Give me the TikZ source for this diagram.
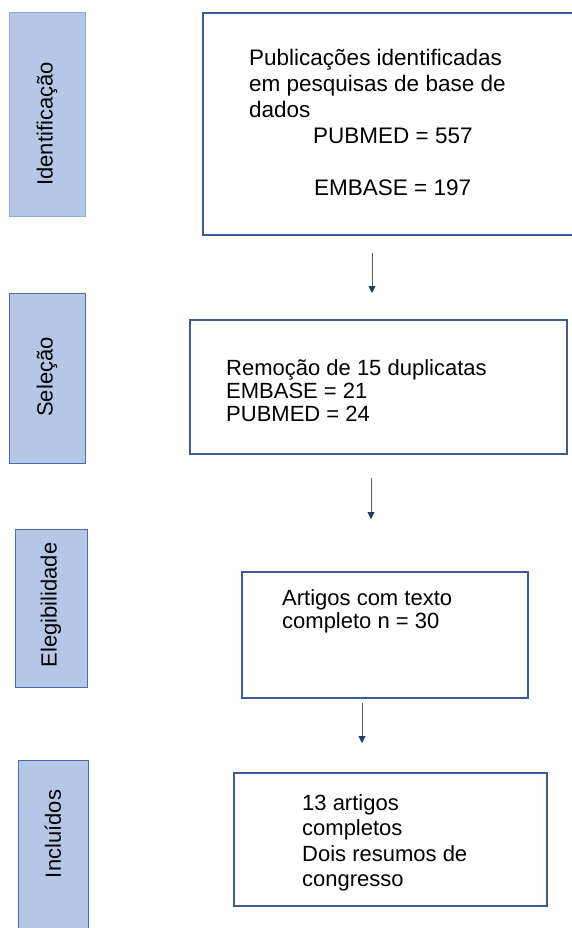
\documentclass[tikz,border=0pt]{standalone}
\usepackage{fontspec}
\setmainfont{Liberation Sans}
\usetikzlibrary{arrows.meta}

\definecolor{barfill}{HTML}{B4C7E7}
\definecolor{barlight}{HTML}{8FAADC}
\definecolor{bardark}{HTML}{4A6DAE}
\definecolor{boxline}{HTML}{3A5A98}
\definecolor{arrowline}{HTML}{55627A}
\definecolor{arrowtip}{HTML}{1F3864}

\tikzset{
  phase/.style={draw=bardark, fill=barfill, line width=1pt, inner sep=0pt},
  phaselabel/.style={rotate=90, font={\fontsize{22}{26}\selectfont}, inner sep=0pt},
  stagebox/.style={draw=boxline, line width=1.1pt, inner sep=0pt},
  stagetext/.style={anchor=north west, align=left, inner sep=0pt},
  flow/.style={draw=arrowline, line width=0.9pt,
    -{Triangle[length=7pt,width=7pt,fill=arrowtip,color=arrowtip]}}
}

\begin{document}
\begin{tikzpicture}[x=1pt,y=-1pt]
\useasboundingbox (0,0) rectangle (572,928);

% phase bars on the left
\node[phase, draw=barlight, minimum width=76pt, minimum height=203pt] (barA) at (47,114.5) {};
\node[phaselabel] (labA) at (47,124) {Identificação};
\node[phase, minimum width=76pt, minimum height=170pt] (barB) at (47,378) {};
\node[phaselabel] (labB) at (47,377) {Seleção};
\node[phase, minimum width=72pt, minimum height=158pt] (barC) at (51,608) {};
\node[phaselabel] (labC) at (51,605) {Elegibilidade};
\node[phase, minimum width=70pt, minimum height=185pt] (barD) at (53,852.5) {};
\node[phaselabel] (labD) at (53,834) {Incluídos};

% stage boxes
\node[stagebox, minimum width=387pt, minimum height=222pt] (boxA) at (396.5,124) {};
\node[stagetext, font={\fontsize{22.5}{26}\selectfont}] (txtA) at (249,49.4)
  {Publicações identificadas\\em pesquisas de base de\\dados\\
   \hspace*{64pt}PUBMED = 557\\[26pt]\hspace*{65pt}EMBASE = 197};

\node[stagebox, minimum width=377pt, minimum height=134pt] (boxB) at (378.5,387) {};
\node[stagetext, font={\fontsize{22}{23}\selectfont}] (txtB) at (226,359.7)
  {Remoção de 15 duplicatas\\EMBASE = 21\\PUBMED = 24};

\node[stagebox, minimum width=286pt, minimum height=126pt] (boxC) at (385,635) {};
\node[stagetext, font={\fontsize{22}{23.3}\selectfont}] (txtC) at (282,589.3)
  {Artigos com texto\\completo n = 30};

\node[stagebox, minimum width=313pt, minimum height=133pt] (boxD) at (390.5,839.5) {};
\node[stagetext, font={\fontsize{22}{25.6}\selectfont}] (txtD) at (302,794)
  {13 artigos\\completos\\Dois resumos de\\congresso};

% arrows between stages
\coordinate (f1s) at (372,253);
\coordinate (f1e) at (372,293);
\coordinate (f2s) at (371,478);
\coordinate (f2e) at (371,519);
\coordinate (f3s) at (362,703);
\coordinate (f3e) at (362,743);
\draw[flow] (f1s) -- (f1e);
\draw[flow] (f2s) -- (f2e);
\draw[flow] (f3s) -- (f3e);
\end{tikzpicture}
\end{document}
